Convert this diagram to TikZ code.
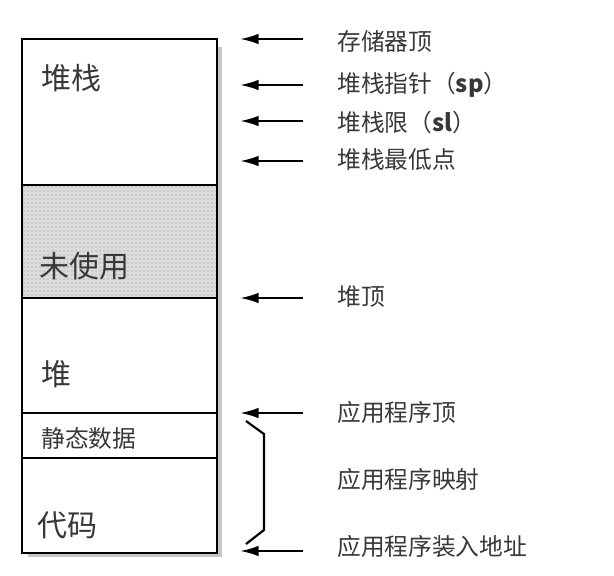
\documentclass[tikz,border=0pt]{standalone}
\usepackage{fontspec}
\setmainfont{Liberation Sans}
\newfontfamily\cjk{Noto Sans CJK SC}
\usetikzlibrary{arrows.meta,patterns}
\definecolor{txt}{HTML}{383838}
\tikzset{
  box/.style={draw=black, line width=1.6pt},
  biglbl/.style={anchor=west, inner sep=0pt, text=txt, font=\cjk\fontsize{22.5pt}{26pt}\selectfont},
  midlbl/.style={anchor=west, inner sep=0pt, text=txt, font=\cjk\fontsize{17.8pt}{20pt}\selectfont},
  rlbl/.style={anchor=west, inner sep=0pt, text=txt, font=\cjk\fontsize{17.8pt}{20pt}\selectfont},
  arr/.style={line width=1.7pt, -{Latex[length=14pt,width=8pt]}},
  brk/.style={line width=1.6pt, line join=miter}
}
\begin{document}
\begin{tikzpicture}[x=0.75pt,y=-0.75pt]
\useasboundingbox (0,0) rectangle (614,575);
% shadow
\fill[gray!45] (217,47) rectangle (222,557);
\fill[gray!45] (28,553) rectangle (222,557);
% unused fill
\fill[gray!28] (22,185) rectangle (217,298);
\fill[pattern=dots, pattern color=gray!85] (22,185) rectangle (217,298);
% segments
\draw[box] (22,39) rectangle (217,553);
\draw[box] (22,185) -- (217,185);
\draw[box] (22,298) -- (217,298);
\draw[box] (22,413) -- (217,413);
\draw[box] (22,458) -- (217,458);
% segment labels
\node[biglbl] (stack) at (41,78) {堆栈};
\node[biglbl] (unused) at (39,266) {未使用};
\node[biglbl] (heap) at (41,374) {堆};
\node[midlbl] (static) at (41,438) {静态数据};
\node[biglbl] (code) at (37,525) {代码};
% right labels
\node[rlbl] (l1) at (337,41) {存储器顶};
\node[rlbl] (l2) at (337,85) {堆栈指针（{\bfseries sp}）};
\node[rlbl] (l3) at (337,122) {堆栈限（{\bfseries sl}）};
\node[rlbl] (l4) at (337,160) {堆栈最低点};
\node[rlbl] (l5) at (337,297) {堆顶};
\node[rlbl] (l6) at (337,412) {应用程序顶};
\node[rlbl] (l7) at (337,479) {应用程序映射};
\node[rlbl] (l8) at (337,546) {应用程序装入地址};
% arrows
\foreach \n/\y in {1/39,2/85,3/121,4/161,5/298,6/413,8/551}{
  \coordinate (s\n) at (303,\y);
  \coordinate (e\n) at (240,\y);
  \draw[arr] (s\n) -- (e\n);
}
% bracket
\coordinate (b1) at (246,421);
\coordinate (b2) at (264,434);
\coordinate (b3) at (264,530);
\coordinate (b4) at (246,544);
\draw[brk] (b1) -- (b2) -- (b3) -- (b4);
\end{tikzpicture}
\end{document}
